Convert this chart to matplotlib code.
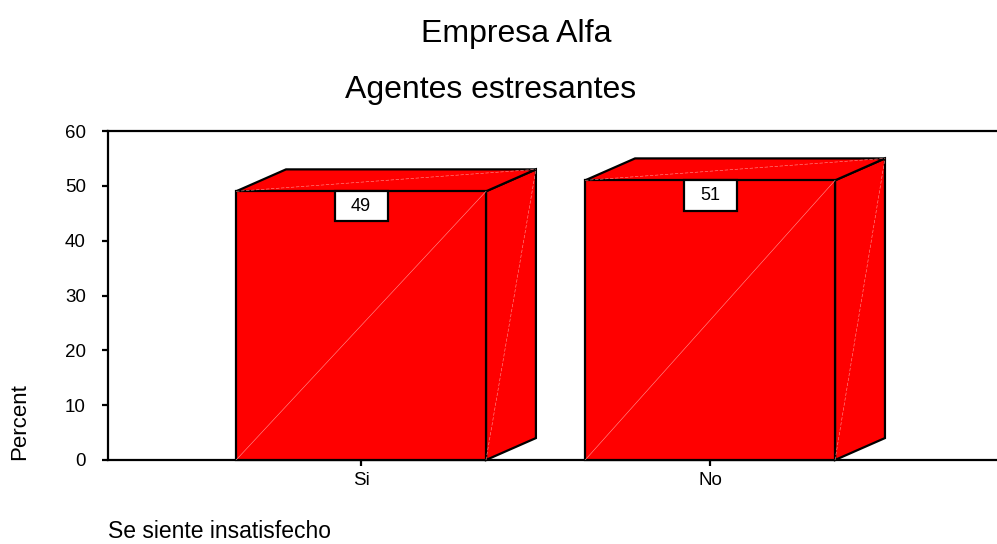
import matplotlib
matplotlib.use('Agg')
import matplotlib.pyplot as plt
from matplotlib.patches import Polygon, Rectangle

plt.rcParams['font.family'] = ['Liberation Sans', 'DejaVu Sans']

categorias = ['Si', 'No']
porcentajes = [49, 51]
etiquetas = ['49', '51']

ROJO = '#ff0000'
SEAM = '#ff9a9a'
ancho = 0.716      # ancho de la cara frontal
dx, dy = 0.143, 4.0  # profundidad 3D

fig = plt.figure(figsize=(9.97, 5.44), dpi=100)
ax = fig.add_axes([108 / 997, 1 - 460 / 544, 1 - 108 / 997, (460 - 131) / 544])
ax.set_xlim(-0.725, 1.822)
ax.set_ylim(0, 60)

for i, v in enumerate(porcentajes):
    x0, x1 = i - ancho / 2, i + ancho / 2
    frente = [(x0, 0), (x1, 0), (x1, v), (x0, v)]
    arriba = [(x0, v), (x1, v), (x1 + dx, v + dy), (x0 + dx, v + dy)]
    lado = [(x1, 0), (x1 + dx, dy), (x1 + dx, v + dy), (x1, v)]
    for cara in (lado, arriba, frente):
        ax.add_patch(Polygon(cara, closed=True, facecolor=ROJO, edgecolor='black',
                             linewidth=1.6, joinstyle='miter', clip_on=False, zorder=3))
    # costuras claras de los triangulos
    ax.plot([x0, x1], [0, v], color=SEAM, lw=0.4, zorder=4)
    ax.plot([x0, x1 + dx], [v, v + dy], color=SEAM, lw=0.4, ls=(0, (6, 3)), zorder=4)
    ax.plot([x1, x1 + dx], [0, v + dy], color=SEAM, lw=0.4, ls=(0, (6, 3)), zorder=4)
    # etiqueta de valor
    bw, bh = 0.152, 5.5
    ax.add_patch(Rectangle((i - bw / 2, v - bh), bw, bh, facecolor='white',
                           edgecolor='black', linewidth=1.6, zorder=5))
    ax.text(i, v - bh / 2, etiquetas[i], ha='center', va='center', fontsize=13, zorder=6)

ax.set_xticks(range(len(categorias)))
ax.set_xticklabels(categorias)
ax.set_yticks(range(0, 61, 10))

ax.spines['right'].set_visible(False)
for s in ('left', 'bottom', 'top'):
    ax.spines[s].set_linewidth(1.6)
    ax.spines[s].set_zorder(2)
ax.tick_params(axis='y', direction='out', length=4.5, width=1.6, pad=11.5, labelsize=13.5)
ax.tick_params(axis='x', direction='out', length=4, width=1.6, pad=4.5, labelsize=13.5)

fig.text(516 / 997, 1 - 42 / 544, 'Empresa Alfa', ha='center', va='baseline', fontsize=23)
fig.text(491 / 997, 1 - 98 / 544, 'Agentes estresantes', ha='center', va='baseline', fontsize=23)
fig.text(20 / 997, 1 - 422 / 544, 'Percent', ha='center', va='center', rotation=90, fontsize=16)
fig.text(108 / 997, 1 - 538 / 544, 'Se siente insatisfecho', ha='left', va='baseline', fontsize=16.5)

fig.savefig('out.png', dpi=100)
